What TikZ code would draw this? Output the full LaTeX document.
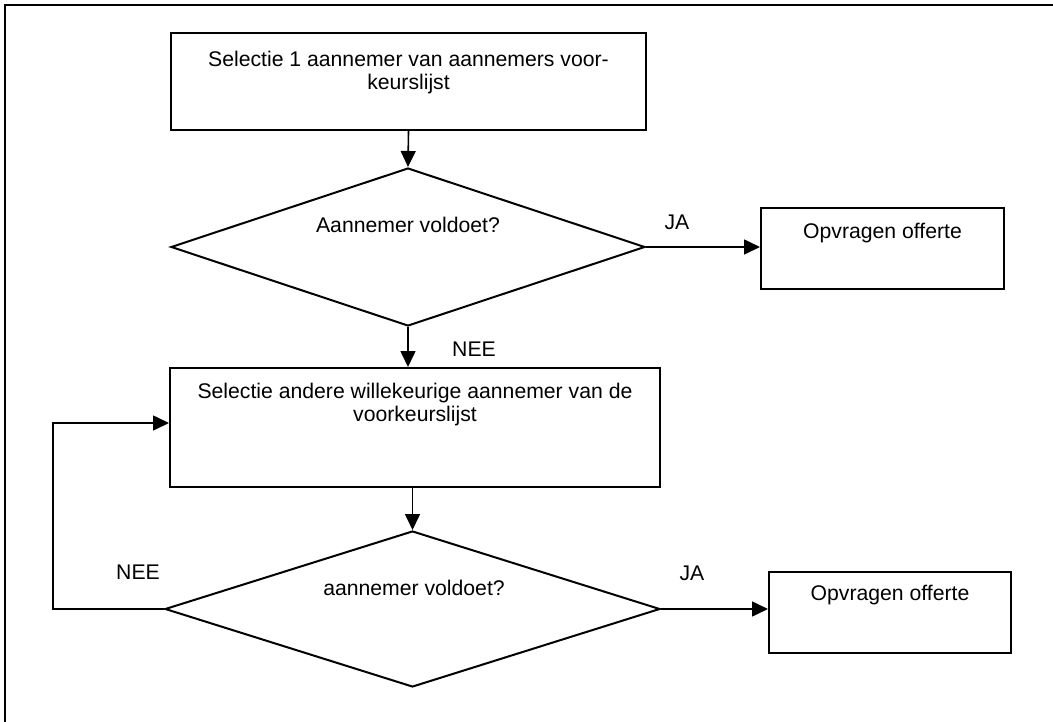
\documentclass[tikz,border=0pt]{standalone}
\usepackage{fontspec}
\setmainfont{Liberation Sans}
\usetikzlibrary{arrows.meta,shapes.geometric}
\begin{document}
\begin{tikzpicture}[x=1pt,y=-1pt,
  box/.style={draw,line width=2pt,rectangle,inner sep=0pt,minimum width=#1},
  decision/.style={draw,line width=2pt,diamond,inner sep=0pt},
  lbl/.style={font=\fontsize{21.2}{23.5}\selectfont,align=center,inner sep=0pt},
  flow/.style={line width=1.6pt,-{Triangle[length=16pt,width=15pt]}}]
\useasboundingbox (0,0) rectangle (1053,722);

% page frame (top and left edges)
\draw[line width=2.2pt] (1053,5) -- (5,5) -- (5,722);

% boxes
\node[box=475pt,minimum height=97pt] (b1) at (408.5,81.5) {};
\node[box=243pt,minimum height=81pt] (o1) at (882.5,248.5) {};
\node[box=490pt,minimum height=119pt] (b2) at (415,427.5) {};
\node[box=242pt,minimum height=81pt] (o2) at (890,612.5) {};

% decisions
\node[decision,minimum width=474pt,minimum height=158pt] (d1) at (408,247) {};
\node[decision,minimum width=495pt,minimum height=156pt] (d2) at (412.5,609) {};

% texts
\node[lbl] (t1) at (408.5,72.5) {Selectie 1 aannemer van aannemers voor-\\keurslijst};
\node[lbl] (t2) at (408,225) {Aannemer voldoet?};
\node[lbl] (t3) at (882.5,233) {Opvragen offerte};
\node[lbl] (t4) at (415,404.5) {Selectie andere willekeurige aannemer van de\\voorkeurslijst};
\node[lbl] (t5) at (414,588) {aannemer voldoet?};
\node[lbl] (t6) at (890,595) {Opvragen offerte};
\node[lbl] (ja1) at (677,222) {JA};
\node[lbl] (nee1) at (474,349) {NEE};
\node[lbl] (ja2) at (692,573) {JA};
\node[lbl] (nee2) at (138,572) {NEE};

% connectors
\coordinate (loopc) at (53,423);
\draw[flow] (b1.south) -- (d1.north);
\draw[flow] (d1.east) -- (d1.east -| o1.west);
\draw[flow] (d1.south) -- (d1.south |- b2.north);
\draw[flow] (b2.south -| d2.north) -- (d2.north);
\draw[flow] (d2.east) -- (d2.east -| o2.west);
\draw[flow] (d2.west) -| (loopc) -- (loopc -| b2.west);
\end{tikzpicture}
\end{document}
